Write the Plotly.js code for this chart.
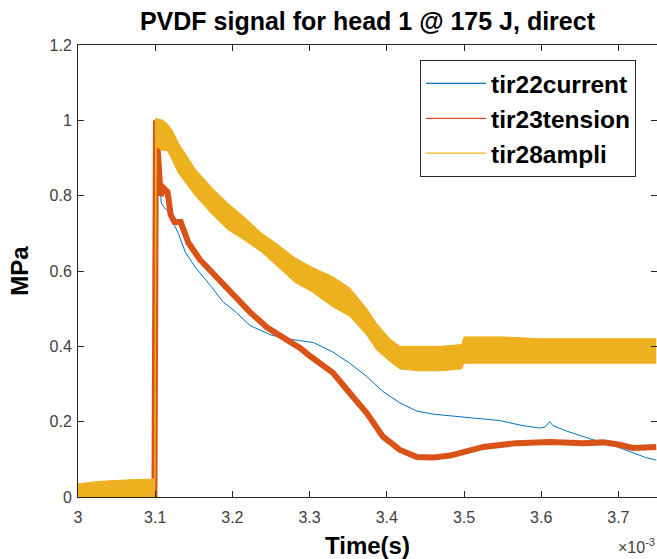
<!DOCTYPE html>
<html>
<head>
<meta charset="utf-8">
<script src="https://cdn.plot.ly/plotly-3.0.1.min.js"></script>
<style>html,body{margin:0;padding:0;background:#fff;}#chart{width:657px;height:559px;}</style>
</head>
<body>
<div id="chart"></div>
<script>
// time in units of 1e-3 s
const blueT = [3.000, 3.050, 3.099, 3.101, 3.104, 3.108, 3.111, 3.116, 3.126, 3.130, 3.139, 3.152, 3.174, 3.187, 3.205, 3.223, 3.250, 3.270, 3.288, 3.305, 3.330, 3.352, 3.374, 3.395, 3.417, 3.439, 3.460, 3.482, 3.510, 3.546, 3.575, 3.598, 3.605, 3.611, 3.615, 3.633, 3.655, 3.676, 3.700, 3.719, 3.735, 3.749];
const blueV = [0.005, 0.005, 0.005, 1.000, 0.880, 0.780, 0.770, 0.760, 0.720, 0.700, 0.650, 0.610, 0.555, 0.520, 0.490, 0.455, 0.430, 0.420, 0.415, 0.410, 0.385, 0.355, 0.320, 0.280, 0.250, 0.228, 0.220, 0.215, 0.210, 0.203, 0.190, 0.183, 0.186, 0.200, 0.190, 0.175, 0.160, 0.146, 0.132, 0.117, 0.105, 0.098];

const orangeT = [3.000, 3.050, 3.099, 3.101, 3.104, 3.107, 3.111, 3.116, 3.120, 3.125, 3.133, 3.143, 3.158, 3.174, 3.194, 3.208, 3.223, 3.245, 3.271, 3.288, 3.300, 3.330, 3.352, 3.374, 3.395, 3.417, 3.439, 3.460, 3.482, 3.500, 3.525, 3.568, 3.611, 3.654, 3.680, 3.698, 3.719, 3.749];
const orangeV = [-0.002, -0.002, -0.002, 1.000, 0.880, 0.800, 0.820, 0.810, 0.750, 0.730, 0.730, 0.675, 0.630, 0.595, 0.550, 0.520, 0.490, 0.450, 0.417, 0.395, 0.375, 0.330, 0.276, 0.223, 0.160, 0.125, 0.106, 0.105, 0.110, 0.120, 0.133, 0.143, 0.146, 0.143, 0.145, 0.140, 0.130, 0.133];

// tir28ampli: noisy band, given as upper and lower envelope
const yellowUpT = [3.000, 3.030, 3.060, 3.0995, 3.1005, 3.110, 3.116, 3.123, 3.130, 3.152, 3.174, 3.194, 3.217, 3.238, 3.259, 3.281, 3.303, 3.330, 3.352, 3.374, 3.387, 3.404, 3.417, 3.440, 3.470, 3.497, 3.500, 3.550, 3.600, 3.650, 3.700, 3.749];
const yellowUpV = [0.035, 0.042, 0.045, 0.048, 1.005, 1.000, 0.990, 0.970, 0.940, 0.870, 0.820, 0.780, 0.740, 0.700, 0.670, 0.635, 0.610, 0.585, 0.555, 0.500, 0.460, 0.420, 0.400, 0.400, 0.400, 0.405, 0.425, 0.425, 0.420, 0.420, 0.420, 0.420];
const yellowLoT = [3.000, 3.0995, 3.1015, 3.110, 3.116, 3.123, 3.130, 3.152, 3.174, 3.194, 3.217, 3.238, 3.259, 3.281, 3.303, 3.330, 3.352, 3.374, 3.387, 3.404, 3.417, 3.440, 3.470, 3.497, 3.500, 3.550, 3.600, 3.650, 3.700, 3.749];
const yellowLoV = [0.000, 0.000, 0.930, 0.920, 0.920, 0.890, 0.860, 0.800, 0.750, 0.710, 0.680, 0.650, 0.610, 0.570, 0.545, 0.505, 0.480, 0.430, 0.390, 0.360, 0.340, 0.335, 0.335, 0.340, 0.355, 0.355, 0.355, 0.355, 0.355, 0.355];

const names = ['tir22current', 'tir23tension', 'tir28ampli'];
const colors = ['#0072BD', '#D95319', '#EDB120'];
const xTicks = [3, 3.1, 3.2, 3.3, 3.4, 3.5, 3.6, 3.7];
const xTickText = ['3', '3.1', '3.2', '3.3', '3.4', '3.5', '3.6', '3.7'];
const yTicks = [0, 0.2, 0.4, 0.6, 0.8, 1, 1.2];
const yTickText = ['0', '0.2', '0.4', '0.6', '0.8', '1', '1.2'];

const FONT = 'Liberation Sans, Arial, Helvetica, sans-serif';

const traces = [
  {x: blueT, y: blueV, mode: 'lines', line: {color: colors[0], width: 1}, showlegend: false, hoverinfo: 'skip'},
  {x: orangeT, y: orangeV, mode: 'lines', line: {color: colors[1], width: 6}, showlegend: false, hoverinfo: 'skip'},
  {x: yellowLoT, y: yellowLoV, mode: 'lines', line: {color: colors[2], width: 1}, showlegend: false, hoverinfo: 'skip'},
  {x: yellowUpT, y: yellowUpV, mode: 'lines', line: {color: colors[2], width: 1}, fill: 'tonexty', fillcolor: colors[2], showlegend: false, hoverinfo: 'skip'}
];
names.forEach((n, i) => {
  traces.push({x: [null], y: [null], mode: 'lines', name: n,
    line: {color: colors[i], width: 1.3}, showlegend: true});
});

const axisCommon = {
  showline: true, linecolor: '#262626', linewidth: 1, mirror: 'allticks',
  ticks: 'inside', ticklen: 6, tickcolor: '#262626', tickwidth: 1,
  showgrid: false, zeroline: false,
  tickfont: {family: FONT, size: 16, color: '#404040'}
};

const layout = {
  width: 657, height: 559,
  margin: {l: 78, r: 0, t: 45, b: 62},
  paper_bgcolor: '#ffffff', plot_bgcolor: '#ffffff',
  title: {text: '<b>PVDF signal for head 1 @ 175 J, direct</b>', font: {family: FONT, size: 25, color: '#000'},
    x: 0.5593, xanchor: 'center', y: 0.962, yanchor: 'middle', xref: 'container', yref: 'container'},
  xaxis: Object.assign({}, axisCommon, {range: [3, 3.75], tickvals: xTicks, ticktext: xTickText,
    ticklabelstandoff: 6,
    title: {text: '<b>Time(s)</b>', font: {family: FONT, size: 24, color: '#000'}, standoff: 12}}),
  yaxis: Object.assign({}, axisCommon, {range: [0, 1.2], tickvals: yTicks, ticktext: yTickText,
    ticklabelstandoff: 2,
    title: {text: '<b>MPa</b>', font: {family: FONT, size: 24, color: '#000'}, standoff: 14}}),
  legend: {x: 0.5907, y: 0.9668, xanchor: 'left', yanchor: 'top', bgcolor: '#ffffff', traceorder: 'normal',
    bordercolor: '#262626', borderwidth: 1, font: {family: FONT, size: 24.5, color: '#000', weight: 'bold'},
    itemwidth: 60},
  annotations: [{text: '×10<sup>-3</sup>', xref: 'paper', yref: 'paper', x: 1, y: -0.108,
    xanchor: 'right', yanchor: 'middle', showarrow: false, font: {family: FONT, size: 16, color: '#404040'}}]
};

Plotly.newPlot('chart', traces, layout, {displayModeBar: false, staticPlot: true});
</script>
</body>
</html>
